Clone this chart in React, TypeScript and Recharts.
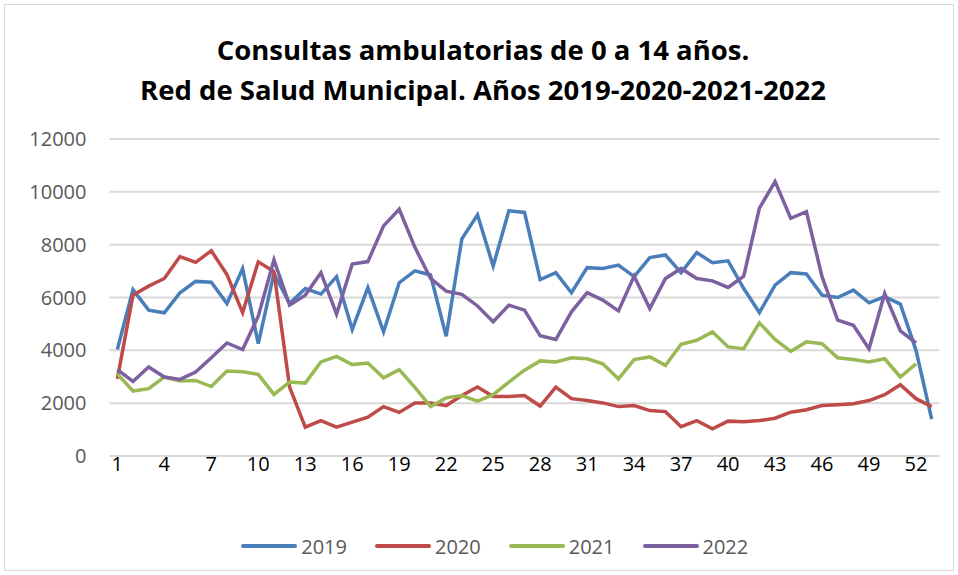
import React from 'react'
import { CartesianGrid, Legend, Line, LineChart, XAxis, YAxis } from 'recharts'

const weeks = Array.from({ length: 53 }, (_, i) => i + 1)
const weekTicks = [1, 4, 7, 10, 13, 16, 19, 22, 25, 28, 31, 34, 37, 40, 43, 46, 49, 52]
const valueTicks = [0, 2000, 4000, 6000, 8000, 10000, 12000]

const y2019 = [
    4030, 6300, 5520, 5420, 6180, 6610, 6580, 5770, 7090, 4250,
    6910, 5770, 6340, 6130, 6790, 4790, 6370, 4700, 6560, 7010,
    6850, 4530, 8220, 9130, 7190, 9280, 9220, 6680, 6940, 6180,
    7130, 7100, 7230, 6790, 7510, 7610, 6940, 7700, 7320, 7390,
    6340, 5430, 6470, 6940, 6890, 6090, 6000, 6280, 5800, 6030,
    5750, 4000, 1400
]
const y2020 = [
    2920, 6090, 6430, 6720, 7550, 7330, 7770, 6870, 5430, 7350,
    6980, 2610, 1090, 1340, 1090, 1280, 1470, 1870, 1650, 2010,
    2010, 1910, 2290, 2610, 2250, 2250, 2290, 1890, 2610, 2170,
    2100, 2010, 1870, 1910, 1720, 1680, 1110, 1340, 1030, 1320,
    1300, 1340, 1430, 1660, 1750, 1910, 1940, 1980, 2100, 2320,
    2700, 2170, 1870
]
const y2021 = [
    3110, 2460, 2550, 2990, 2840, 2860, 2630, 3220, 3190, 3090,
    2330, 2800, 2760, 3560, 3770, 3460, 3520, 2960, 3270, 2600,
    1870, 2200, 2290, 2080, 2320, 2800, 3250, 3600, 3560, 3720,
    3680, 3490, 2920, 3650, 3750, 3430, 4230, 4380, 4700, 4130,
    4060, 5040, 4410, 3960, 4320, 4250, 3720, 3650, 3560, 3680,
    2990, 3490
]
const y2022 = [
    3270, 2820, 3370, 2990, 2900, 3180, 3720, 4280, 4030, 5290,
    7420, 5710, 6090, 6940, 5370, 7270, 7360, 8710, 9340, 7900,
    6720, 6240, 6120, 5680, 5080, 5710, 5520, 4550, 4410, 5460,
    6180, 5900, 5490, 6810, 5580, 6720, 7100, 6720, 6630, 6380,
    6810, 9380, 10390, 9000, 9250, 6790, 5140, 4950, 4060, 6150,
    4740, 4280
]

const series = [
    { key: '2019', color: '#4A7EBB' },
    { key: '2020', color: '#BE4B48' },
    { key: '2021', color: '#98B954' },
    { key: '2022', color: '#7D60A0' },
]

const data = weeks.map((week, i) => ({
    week,
    '2019': y2019[i] ?? null,
    '2020': y2020[i] ?? null,
    '2021': y2021[i] ?? null,
    '2022': y2022[i] ?? null,
}))

const font = '"Open Sans", "Noto Sans", sans-serif'

const renderLegend = () => (
    <div style={{ display: 'flex', justifyContent: 'center', height: 28, alignItems: 'center', paddingLeft: 78 }}>
        {series.map(s => (
            <div key={s.key} style={{ display: 'flex', alignItems: 'center', marginRight: 28 }}>
                <svg width={56} height={10}>
                    <line x1={2} y1={5} x2={54} y2={5} stroke={s.color} strokeWidth={4} strokeLinecap="round" />
                </svg>
                <span style={{ marginLeft: 4, fontSize: 20, color: '#595959', fontFamily: font }}>{s.key}</span>
            </div>
        ))}
    </div>
)

export default function App() {
    return (
        <div style={{ position: 'absolute', left: 0, top: 0, width: 958, height: 575, background: '#fff', fontFamily: font }}>
            <div style={{ position: 'absolute', left: 4, top: 4, width: 948, height: 565, border: '1px solid #d9d9d9' }} />
            <div style={{ position: 'absolute', left: 12, top: 30, width: 942, textAlign: 'center', fontWeight: 700, fontSize: 27.5, lineHeight: '40px', color: '#000' }}>
                <div>Consultas ambulatorias de 0 a 14 años.</div>
                <div>Red de Salud Municipal. Años 2019-2020-2021-2022</div>
            </div>
            <LineChart
                width={958}
                height={575}
                data={data}
                margin={{ top: 139, right: 18.5, left: 0, bottom: 15 }}
            >
                <CartesianGrid vertical={false} stroke="#d9d9d9" strokeWidth={2} />
                <XAxis
                    dataKey="week"
                    type="number"
                    domain={[0.5, 53.5]}
                    ticks={weekTicks}
                    interval={0}
                    height={76}
                    axisLine={false}
                    tickLine={false}
                    tickSize={0}
                    tickMargin={1}
                    tick={{ fontSize: 20, fill: '#000', fontFamily: font }}
                />
                <YAxis
                    domain={[0, 12000]}
                    ticks={valueTicks}
                    width={109.5}
                    axisLine={false}
                    tickLine={false}
                    tickSize={0}
                    tickMargin={23}
                    tick={{ fontSize: 20, fill: '#595959', fontFamily: font }}
                />
                <Legend verticalAlign="bottom" content={renderLegend} />
                {series.map(s => (
                    <Line
                        key={s.key}
                        type="linear"
                        dataKey={s.key}
                        stroke={s.color}
                        strokeWidth={3.5}
                        dot={false}
                        connectNulls={false}
                        isAnimationActive={false}
                    />
                ))}
            </LineChart>
        </div>
    )
}
